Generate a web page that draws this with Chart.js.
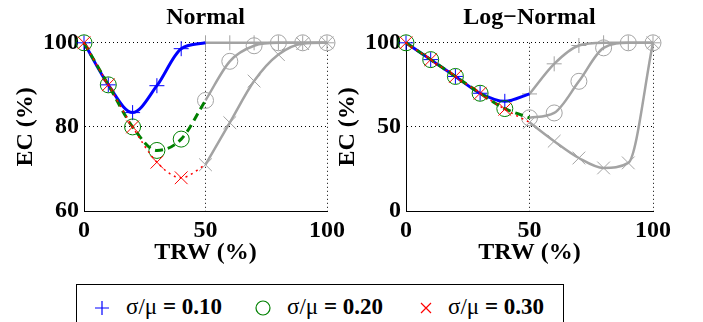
<!DOCTYPE html>
<html>
<head>
<meta charset="utf-8">
<script src="https://cdn.jsdelivr.net/npm/chart.js@4/dist/chart.umd.min.js"></script>
<style>
  html, body { margin: 0; padding: 0; background: #fff; }
  body { width: 703px; height: 322px; position: relative; overflow: hidden; font-family: 'Liberation Serif', serif; }
  canvas { position: absolute; top: 0; }
  #legend { position: absolute; left: 76px; top: 284px; width: 488px; height: 60px; border: 1px solid #000; box-sizing: border-box; }
  .item { position: absolute; top: 9px; font-size: 23px; line-height: 26px; white-space: nowrap; }
  .item svg { position: absolute; top: 6px; }
  .item .txt { position: absolute; top: 0; }
  .sym { font-weight: normal; }
  .num { font-weight: bold; }
</style>
</head>
<body>
<canvas id="normalChart" width="350" height="270" style="left:0"></canvas>
<canvas id="lognormalChart" width="360" height="270" style="left:322px"></canvas>
<div id="legend">
  <div class="item" style="left:17px">
    <svg width="16" height="16"><path d="M1 8H15M8 1V15" stroke="#0000ff" stroke-width="1.2" fill="none"/></svg>
    <span class="txt" style="left:32px"><span class="sym">σ/μ</span> <span class="num">= 0.10</span></span>
  </div>
  <div class="item" style="left:178px">
    <svg width="16" height="16"><circle cx="8" cy="8" r="7" stroke="#008000" stroke-width="1.2" fill="none"/></svg>
    <span class="txt" style="left:32px"><span class="sym">σ/μ</span> <span class="num">= 0.20</span></span>
  </div>
  <div class="item" style="left:341px">
    <svg width="16" height="16"><path d="M3 3L13 13M13 3L3 13" stroke="#ff0000" stroke-width="1.2" fill="none"/></svg>
    <span class="txt" style="left:30px"><span class="sym">σ/μ</span> <span class="num">= 0.30</span></span>
  </div>
</div>
<script>
// TRW positions (%) - coloured part and grey tail
const trwLow = [0, 10, 20, 30, 40, 50];
const trwHigh = [50, 60, 70, 80, 90, 100];
const xTicks = [0, 50, 100];
const normalTicks = [60, 80, 100];
const lognormalTicks = [0, 50, 100];

// Normal distribution, EC (%)
const normal010 = [100, 90, 83.4, 89.8, 98.6, 100];
const normal020 = [100, 90, 80, 74.4, 77.1, 86.3];
const normal030 = [100, 90, 80, 71.6, 67.9, 71.0];
const normal010Tail = [100, 100, 100, 100, 100, 100];
const normal020Tail = [86.3, 95.6, 99.3, 100, 100, 100];
const normal030Tail = [71.0, 81.0, 90.9, 97.2, 99.8, 100];

// Log-normal distribution, EC (%)
const lognormal010 = [100, 90, 80, 70, 65.2, 69.6];
const lognormal020 = [100, 90, 80, 70, 60.9, 55.4];
const lognormal030 = [100, 90, 80, 70, 60.5, 52.7];
const lognormal010Tail = [69.6, 87.5, 98.4, 100, 100, 100];
const lognormal020Tail = [55.4, 58.3, 77.1, 97.0, 100, 100];
const lognormal030Tail = [52.7, 41.5, 31.5, 25.6, 28.6, 100];

const GREY = '#a3a3a3';
const FONT = 'Liberation Serif';
const SIZE = 24;

function pts(xs, ys) {
    return xs.map((x, i) => ({ x: x, y: ys[i] }));
}

// coloured curve; last point only anchors the curve (marker hidden)
function colored(ys, color, style, radius, width, dash) {
    return {
        data: pts(trwLow, ys),
        borderColor: color,
        backgroundColor: 'rgba(0,0,0,0)',
        borderWidth: width,
        borderDash: dash,
        pointStyle: style,
        pointRadius: trwLow.map((x, i) => i === trwLow.length - 1 ? 0 : radius),
        pointBorderColor: color,
        pointBorderWidth: 1,
        cubicInterpolationMode: 'monotone',
        clip: false
    };
}

function tail(ys, style, radius) {
    return {
        data: pts(trwHigh, ys),
        borderColor: GREY,
        backgroundColor: 'rgba(0,0,0,0)',
        borderWidth: 2.5,
        pointStyle: style,
        pointRadius: radius,
        pointBorderColor: GREY,
        pointBorderWidth: 1,
        cubicInterpolationMode: 'monotone',
        clip: false
    };
}

function makeChart(id, title, sets, yMin, yMax, yTicks, padRight) {
    const ctx = document.getElementById(id).getContext('2d');
    const gridColor = (min) => (c) => c.tick && c.tick.value === min ? 'rgba(0,0,0,0)' : '#000';
    const font = { family: FONT, size: SIZE, weight: 'bold' };
    return new Chart(ctx, {
        type: 'line',
        data: {
            datasets: [
                colored(sets[2], '#ff0000', 'crossRot', 9, 1.5, [2, 4]),
                colored(sets[1], '#008000', 'circle', 8, 3, [8, 5]),
                colored(sets[0], '#0000ff', 'cross', 7.5, 3, []),
                tail(sets[5], 'crossRot', 9),
                tail(sets[4], 'circle', 8),
                tail(sets[3], 'cross', 7.5)
            ]
        },
        options: {
            responsive: false,
            animation: false,
            layout: { padding: { left: 0, right: padRight, top: 0, bottom: 0 } },
            plugins: {
                legend: { display: false },
                tooltip: { enabled: false },
                title: {
                    display: true,
                    fullSize: false,
                    text: title,
                    color: '#000',
                    font: font,
                    padding: { top: 3, bottom: 11 }
                }
            },
            scales: {
                x: {
                    type: 'linear',
                    min: 0,
                    max: 100,
                    afterBuildTicks: s => { s.ticks = xTicks.map(v => ({ value: v })); },
                    afterFit: s => { s.height = 59; },
                    ticks: { color: '#000', padding: 5, maxRotation: 0, font: font },
                    grid: { color: gridColor(0), lineWidth: 1, drawTicks: false },
                    border: { display: true, color: '#000', width: 1, dash: [1, 3] },
                    title: { display: true, text: 'TRW (%)', color: '#000', padding: { top: 0, bottom: 3 }, font: font }
                },
                y: {
                    type: 'linear',
                    min: yMin,
                    max: yMax,
                    afterBuildTicks: s => { s.ticks = yTicks.map(v => ({ value: v })); },
                    afterFit: s => { s.width = 84; },
                    ticks: { color: '#000', padding: 5, font: font },
                    grid: { color: gridColor(yMin), lineWidth: 1, drawTicks: false },
                    border: { display: true, color: '#000', width: 1, dash: [1, 3] },
                    title: { display: true, text: 'EC (%)', color: '#000', padding: { top: 11, bottom: 0 }, font: font }
                }
            }
        }
    });
}

makeChart('normalChart', 'Normal',
    [normal010, normal020, normal030, normal010Tail, normal020Tail, normal030Tail],
    60, 100, normalTicks, 18);
makeChart('lognormalChart', 'Log\u2212Normal',
    [lognormal010, lognormal020, lognormal030, lognormal010Tail, lognormal020Tail, lognormal030Tail],
    0, 100, lognormalTicks, 29);
</script>
</body>
</html>
